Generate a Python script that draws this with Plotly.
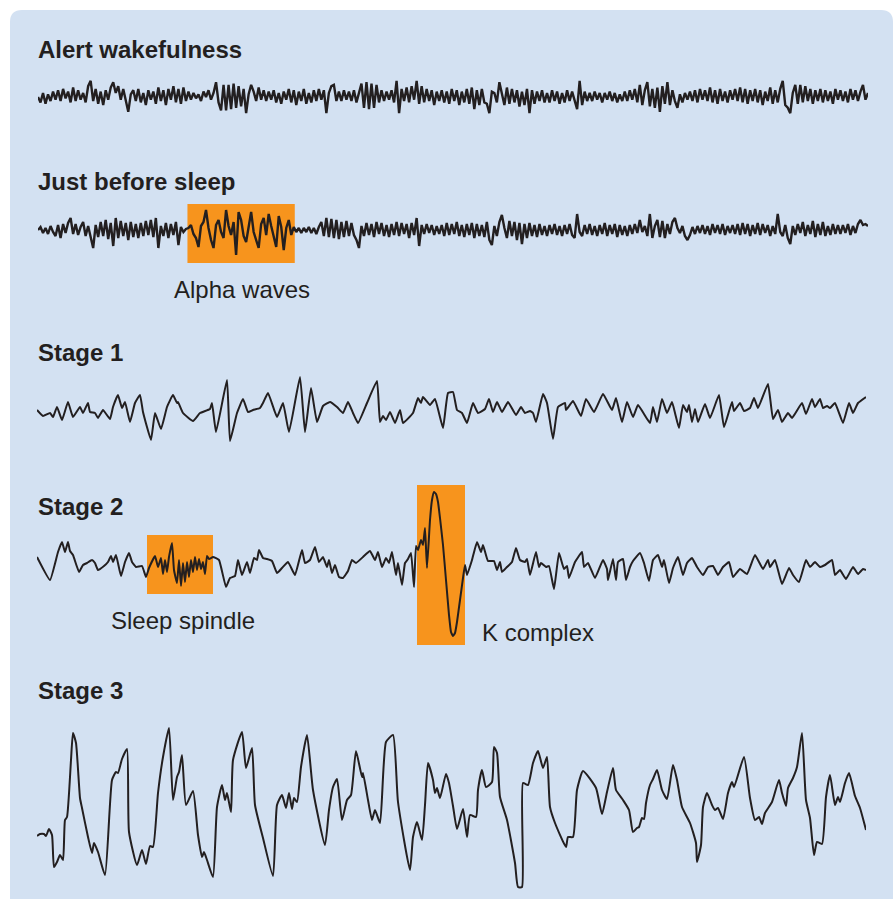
import plotly.graph_objects as go

W, H = 893, 899
INK = "#231f20"
ORANGE = "#f7941d"
PANEL = "#d3e1f2"
FONT = "Liberation Sans, Arial, Helvetica, sans-serif"

# ---- digitised EEG traces (amplitude, arbitrary units; + is up) ----
# dense traces: one value every sample
ALERT_V = [
    0, -4, 3, -5, 2, -3, 4, -2, 5, -3, 6, -1, 4, -4, 7, -3, 5, -2, 3, -4,
    8, 12, -3, 6, -5, 4, -6, 5, -2, 7, 11, 3, 8, -2, 6, -4, -11, 2, 5, -3,
    6, -4, 3, -6, 5, -2, 4, -5, 7, -3, 5, -6, 6, -2, 8, -4, 6, -5, 7, -3,
    4, -2, 3, -1, 2, -3, 4, 0, 5, -2, 3, 11, -4, -10, 9, -10, 9, -9, 10, -8,
    8, -7, 6, -12, 2, 9, 4, -3, 7, -2, 5, -3, 4, -2, 5, -4, 3, -5, 4, -2,
    6, -4, 5, -6, 4, -3, 6, -5, 3, -4, 5, -3, 6, -2, 5, -12, 3, 8, 9, -3,
    4, -3, 5, -2, 4, -3, 5, -4, 3, 10, -8, 11, -9, 10, -8, 9, -4, 5, -3, 4,
    -2, 5, -4, 12, -12, 6, -3, 7, -4, 8, -2, 12, -5, 8, -4, 6, -3, 5, -6, 4,
    -3, 5, -4, 4, -5, 6, -3, 5, -6, 4, -4, 6, -5, 7, -9, 5, -6, 6, -4, -5,
    -12, 4, 3, -4, 11, 2, -6, 7, -5, 6, -4, 5, -7, 4, -6, 6, -12, 5, -5, 4,
    -3, 5, -4, 3, -4, 5, -3, 4, -5, 3, -4, 5, -3, 4, -2, -9, 12, -6, 4, -3,
    3, -3, 4, -2, 3, -4, 3, -2, 4, -3, 3, -4, 2, -3, 4, -3, 5, -2, 6, -4,
    9, -6, 5, 11, -7, 6, -8, 7, -11, 8, -5, 11, -6, 5, -3, -8, 2, -4, 3, -2,
    4, -3, 5, -4, 6, -2, 5, -3, 7, -4, 5, -5, 6, -3, 4, -4, 5, -2, 6, -3,
    7, -4, 6, -5, 5, -3, 6, -4, 5, -6, 4, -3, 7, -5, 5, -4, 6, 12, -6, -8,
    -12, 3, 9, -5, 9, -4, 8, -3, 6, -5, 5, -3, 6, -4, 5, -3, 4, -5, 6, -2,
    5, -3, 4, -4, 6, -2, 5, -3, 4, 9, -2, 3,
]

PRESLEEP_V = [
    0, 3, -3, 2, -4, 4, -2, -6, 5, -8, 6, -3, 7, 12, -4, 6, -5, 3, 8, -6,
    4, -6, -18, 5, -7, 8, -6, 10, -9, 7, -16, 12, -8, 9, -6, 7, -10, 8, -7, 6,
    -8, 7, -6, 9, -5, 10, -7, 12, -18, 4, -6, 7, -8, 6, -5, 8, -15, 3, -2, 1,
    2, 5, -4, -8, -17, 4, 8, 20, 2, -10, -18, 5, 10, -2, -8, 20, 4, -5, 8, -25,
    18, 10, -6, -12, 5, 18, -2, -10, -18, 6, 12, -5, 16, 4, -8, -17, 14, 3, -20, 2,
    10, -5, 3, -2, 2, -3, 2, -2, 3, -3, 2, -4, 3, 8, -6, 12, -7, 11, -8, 10,
    -9, 8, -7, 9, -6, 7, -5, -10, -18, 4, -6, 7, -5, 6, -7, 8, -4, 7, -6, 5,
    -7, 6, -5, 8, -6, 7, -4, 6, -8, 7, -5, 12, -16, 5, -4, 6, -3, 5, -5, 4,
    -4, 5, -6, 7, -5, 6, -4, 8, -6, 5, -7, 6, -5, 7, -8, 6, -6, 5, -7, 8,
    -10, -15, 4, -6, 8, 15, 2, -8, 9, -6, 8, -10, 7, -14, 6, -8, 7, -6, 5, -7,
    6, -5, 4, -6, 5, -4, 6, -5, 4, -6, 5, -4, 6, -5, -8, 16, -2, -6, 5, -4,
    6, -5, 4, -6, 5, -4, 7, -6, 5, -4, 6, -7, 5, -5, 4, -6, 5, -4, 6, -3,
    10, -2, 4, -6, 16, -8, 4, 10, -7, 9, -8, 6, -4, 8, 12, 2, -3, 4, -6, -10,
    -5, 3, -4, 4, -3, 5, -4, 4, -5, 6, -3, 5, -4, 6, -5, 4, -3, 5, -4, 6,
    -5, 7, -4, 6, -6, 5, -4, 7, -5, 6, -3, 5, -6, 4, -4, 16, -2, -6, 5, -8,
    -14, 4, -5, 6, -3, 8, -6, 5, -4, 9, -7, 6, -5, 8, -6, 4, -5, 6, -4, 5,
    -4, 5, -3, 6, -5, 4, -3, 6, 10, 5, 6, 4,
]

# sparser traces: (time, amplitude) pairs
STAGE1_T = [
    0, 6, 13, 16, 20, 25, 31, 36, 43, 46, 51, 53, 58, 61, 66, 73, 76, 81, 85, 88,
    93, 98, 103, 106, 114, 118, 124, 130, 136, 140, 141, 146, 156, 163, 173, 175, 179, 190, 193, 200,
    206, 211, 216, 223, 226, 231, 240, 246, 252, 263, 268, 274, 280, 286, 293, 300, 306, 311, 316, 321,
    330, 340, 343, 346, 349, 353, 358, 363, 366, 376, 381, 384, 386, 393, 398, 406, 411, 416, 420, 425,
    430, 436, 441, 448, 452, 456, 460, 465, 471, 479, 484, 488, 493, 496, 499, 506, 510, 516, 521, 528,
    529, 536, 544, 549, 557, 566, 575, 579, 585, 590, 596, 601, 613, 616, 620, 625, 630, 635, 638, 642,
    646, 650, 652, 655, 658, 661, 668, 673, 682, 687, 695, 697, 703, 707, 713, 717, 721, 731, 736, 741,
    745, 751, 755, 765, 769, 775, 778, 783, 786, 790, 793, 798, 806, 812, 816, 821, 829,
]
STAGE1_V = [
    0, -6, -3, -7, 3, -10, 8, -7, 3, -3, 7, -2, -3, -8, 0, -9, 3, 15, 2, 8,
    -12, 7, 15, -2, -30, -3, -19, 3, 15, 7, 8, -3, -11, -3, 1, 7, -22, 30, -31, -3,
    11, -2, 0, 2, 7, 17, -7, 7, -22, 33, -22, 22, -12, 4, 8, 3, -3, 8, -3, -13,
    7, 29, -12, -6, -10, -2, -13, 0, -13, -3, 12, 7, 13, 5, 11, -18, 17, 18, 0, -3,
    -13, 7, -3, 1, 11, -2, 8, -2, 8, -5, 3, -3, -1, -3, -12, 16, 7, -29, 3, 7,
    0, 9, -6, 11, -2, 16, 0, 12, -12, 8, -7, 5, -13, 3, -12, 11, -3, 8, -3, -18,
    5, -2, 5, -12, 1, -12, 6, -8, 15, -17, 8, -1, 7, -1, 2, 12, 2, 26, -9, 0,
    -12, -3, -8, 7, -4, 11, 3, 11, 2, 4, 2, 7, -13, 7, -3, 7, 13,
]

STAGE2_T = [
    0, 13, 21, 25, 28, 31, 33, 36, 42, 46, 50, 55, 58, 61, 67, 71, 74, 76, 79, 84,
    88, 92, 95, 99, 105, 109, 112, 118, 121, 124, 126, 128, 130, 132, 135, 137, 140, 142, 144, 146,
    148, 150, 152, 154, 156, 158, 160, 162, 164, 166, 168, 170, 172, 176, 182, 189, 193, 198, 201, 205,
    210, 213, 217, 220, 222, 226, 230, 235, 240, 245, 251, 258, 265, 268, 273, 278, 282, 286, 290, 292,
    295, 298, 302, 306, 311, 315, 319, 326, 333, 338, 341, 345, 349, 352, 355, 359, 361, 365, 368, 371,
    374, 377, 379, 381, 384, 386, 388, 390, 393, 395, 397, 399, 401, 403, 406, 409, 412, 414, 416, 418,
    420, 423, 426, 428, 430, 435, 440, 444, 446, 451, 457, 460, 463, 465, 470, 475, 479, 483, 488, 490,
    493, 499, 502, 504, 509, 512, 517, 522, 527, 530, 532, 538, 545, 547, 551, 558, 566, 570, 571, 576,
    579, 581, 586, 589, 593, 596, 603, 607, 612, 616, 621, 625, 627, 632, 636, 641, 646, 650, 655, 660,
    666, 671, 676, 681, 686, 692, 696, 703, 710, 718, 726, 731, 733, 738, 745, 752, 756, 762, 769, 773,
    778, 783, 788, 795, 798, 803, 809, 816, 821, 826, 829,
]
STAGE2_V = [
    8, -15, 13, 23, 13, 23, 14, 10, -7, 0, 2, 5, 2, -5, -1, 3, 9, 3, 10, -11,
    3, 12, 3, -2, -1, -12, -3, 9, -2, 7, -9, 5, -7, 8, 22, -5, -18, 5, -21, 2,
    -17, 3, -12, 5, -7, 8, -5, 6, -4, 3, -9, 9, 6, 8, 5, -22, -13, -11, 5, -10,
    3, -8, 7, 5, 15, 7, 6, 4, -8, -3, 3, -10, 15, 2, 5, 18, 3, 8, -2, 5,
    -8, 0, -12, -13, -6, 5, 2, 8, 14, 5, 13, -2, 7, 2, 13, -10, 2, -20, 2, 6,
    12, -22, 19, 15, 25, 20, 37, -3, 45, 65, 73, 71, 63, 47, 20, -15, -50, -67, -71, -68,
    -57, -35, -13, 0, -10, 5, 23, 13, 20, 4, 4, -5, 3, -7, -2, 3, 17, 5, 3, 6,
    -10, 13, -2, 2, -2, -1, -24, 12, -4, -1, -13, 3, 13, -2, 2, -13, 5, -4, -15, 6,
    -15, 3, 6, -15, -2, 4, 12, 2, -16, 5, 10, -2, 5, -18, -3, 8, -10, 2, 7, -2,
    -10, -2, -1, -10, -2, 3, -12, -4, -9, 10, -4, 5, -2, 5, -19, -3, -10, -17, 5, -2,
    3, -2, 0, 5, -10, -5, -14, -2, -9, -4, -5,
]

STAGE3_T = [
    0, 3, 7, 9, 12, 15, 17, 20, 23, 26, 28, 30, 34, 36, 39, 43, 45, 51, 55, 57,
    61, 68, 75, 79, 81, 85, 90, 92, 100, 105, 109, 113, 116, 121, 126, 132, 136, 140, 142, 145,
    149, 156, 161, 165, 167, 170, 176, 180, 185, 188, 190, 194, 196, 205, 209, 215, 218, 226, 236, 240,
    245, 249, 252, 255, 257, 260, 264, 270, 276, 288, 292, 296, 300, 305, 310, 314, 319, 325, 326, 331,
    335, 338, 343, 349, 356, 361, 373, 376, 380, 385, 388, 391, 396, 398, 400, 403, 409, 412, 416, 420,
    426, 430, 433, 439, 441, 445, 449, 455, 457, 460, 463, 470, 478, 481, 485, 486, 491, 496, 501, 506,
    510, 513, 518, 529, 531, 536, 540, 546, 559, 565, 570, 576, 579, 586, 592, 596, 600, 602, 605, 607,
    609, 613, 616, 620, 625, 630, 636, 640, 645, 653, 659, 660, 664, 666, 670, 675, 678, 681, 686, 691,
    695, 697, 707, 713, 718, 722, 725, 728, 735, 742, 745, 749, 751, 756, 760, 765, 769, 773, 777, 780,
    785, 789, 793, 798, 801, 803, 808, 812, 818, 823, 829,
]
STAGE3_V = [
    -31, -29, -29, -31, -24, -30, -62, -57, -50, -55, -15, -12, 45, 72, 62, 7, -3, -32, -48, -38,
    -47, -70, 25, 33, 32, 46, 56, -27, -60, -45, -59, -41, -42, 12, 48, 77, 5, 28, 33, 50,
    0, 14, -30, -52, -47, -55, -72, -2, 20, 5, 12, -7, 45, 73, 37, 57, 0, -33, -71, 0,
    10, -3, 12, -4, 7, 3, 38, 70, 15, -40, -5, 18, 26, -15, 5, 10, 54, 28, 32, 5,
    -15, -5, -18, 63, 70, 3, -65, -32, -17, -35, 0, 42, 25, 12, 17, 7, 31, 22, -1, -24,
    -4, -32, -10, -12, 15, 35, 18, 23, 58, 52, 8, -15, -58, -82, -82, 22, 20, 42, 54, 37,
    48, -2, -18, -42, -32, -32, 15, 34, 17, -9, 13, 37, 15, 5, -5, -27, -23, -22, -13, -14,
    2, 20, 26, 35, 15, 6, 40, 25, -2, -18, -38, -57, -40, -2, 12, 0, -5, -3, -14, 12,
    23, 18, 48, 7, -15, -12, -19, -8, 3, 25, 12, -1, 17, 27, 38, 72, 5, -13, -50, -37,
    -39, 8, 30, 0, 8, 3, 22, 32, 9, -3, -25,
]

TITLES = ["Alert wakefulness", "Just before sleep", "Stage 1", "Stage 2", "Stage 3"]

# highlighted segments: (trace, t0, t1, v_low, v_high, label)
HIGHLIGHTS = [
    (1, 59.6, 102.4, -33, 26, "Alpha waves"),
    (3, 110, 176, -29, 30, "Sleep spindle"),
    (3, 380, 428, -80, 80, "K complex"),
]

# ---- layout geometry (pixels of the 893x899 canvas) ----
# per trace: left px, right px, baseline px, px below / above baseline, px per unit, spline smoothing
GEOM = [
    (38, 868, 97, -22, 22, 1.35, 0),
    (38, 868, 230, -36, 30, 1.0, 0),
    (37, 866, 410, -36, 36, 1.0, 0.35),
    (37, 866, 565, -84, 84, 1.0, 0.35),
    (37, 866, 805, -86, 80, 1.0, 0.5),
]
TITLE_Y = [49, 181, 352, 506, 690]
LABEL_POS = {"Alpha waves": (172, 290), "Sleep spindle": (109, 620), "K complex": (480, 632)}


def px(x):
    return x / W


def py(y):
    return 1 - y / H


series = [
    (list(range(len(ALERT_V))), ALERT_V, 2.4),
    (list(range(len(PRESLEEP_V))), PRESLEEP_V, 2.4),
    (STAGE1_T, STAGE1_V, 2.0),
    (STAGE2_T, STAGE2_V, 2.0),
    (STAGE3_T, STAGE3_V, 2.0),
]

fig = go.Figure()
layout = dict(
    width=W, height=H, margin=dict(l=0, r=0, t=0, b=0),
    paper_bgcolor="white", plot_bgcolor="rgba(0,0,0,0)",
    showlegend=False, font=dict(family=FONT, color=INK),
)

# rounded light-blue panel, in paper coordinates (drawn under every subplot)
r = 12
panel_path = (
    f"M {px(10)},{py(H)} L {px(10)},{py(10 + r)} "
    f"Q {px(10)},{py(10)} {px(10 + r)},{py(10)} "
    f"L {px(W - r)},{py(10)} Q {px(W)},{py(10)} {px(W)},{py(10 + r)} "
    f"L {px(W)},{py(H)} Z"
)
shapes = [dict(type="path", xref="paper", yref="paper", layer="below",
               path=panel_path, fillcolor=PANEL, line=dict(width=0))]

for i, ((t, v, lw), (x0, x1, base, lo, hi, s, smooth)) in enumerate(zip(series, GEOM)):
    n = i + 1
    sfx = "" if n == 1 else str(n)
    layout[f"xaxis{sfx}"] = dict(domain=[px(x0), px(x1)], range=[t[0], t[-1]],
                                 visible=False, fixedrange=True, anchor=f"y{sfx}")
    layout[f"yaxis{sfx}"] = dict(domain=[py(base - lo), py(base - hi)], range=[lo / s, hi / s],
                                 visible=False, fixedrange=True, anchor=f"x{sfx}")
    line = dict(color=INK, width=lw)
    if smooth:
        line.update(shape="spline", smoothing=smooth)
    fig.add_trace(go.Scatter(x=t, y=v, mode="lines", xaxis=f"x{sfx}", yaxis=f"y{sfx}",
                             line=line, hoverinfo="skip"))

for k, t0, t1, vlo, vhi, label in HIGHLIGHTS:
    sfx = "" if k == 0 else str(k + 1)
    shapes.append(dict(type="rect", xref=f"x{sfx}", yref=f"y{sfx}", layer="below",
                       x0=t0, x1=t1, y0=vlo, y1=vhi, fillcolor=ORANGE, line=dict(width=0)))

annotations = []
for title, ty in zip(TITLES, TITLE_Y):
    annotations.append(dict(text=f"<b>{title}</b>", x=px(36), y=py(ty), xref="paper", yref="paper",
                            xanchor="left", yanchor="middle", showarrow=False,
                            font=dict(size=24, color=INK, family=FONT)))
for label, (lx, ly) in LABEL_POS.items():
    annotations.append(dict(text=label, x=px(lx), y=py(ly), xref="paper", yref="paper",
                            xanchor="left", yanchor="middle", showarrow=False,
                            font=dict(size=24, color=INK, family=FONT)))

layout["shapes"] = shapes
layout["annotations"] = annotations
fig.update_layout(**layout)
fig.write_html("out.html", config={"displayModeBar": False},
               post_script="document.body.style.margin='0';")
